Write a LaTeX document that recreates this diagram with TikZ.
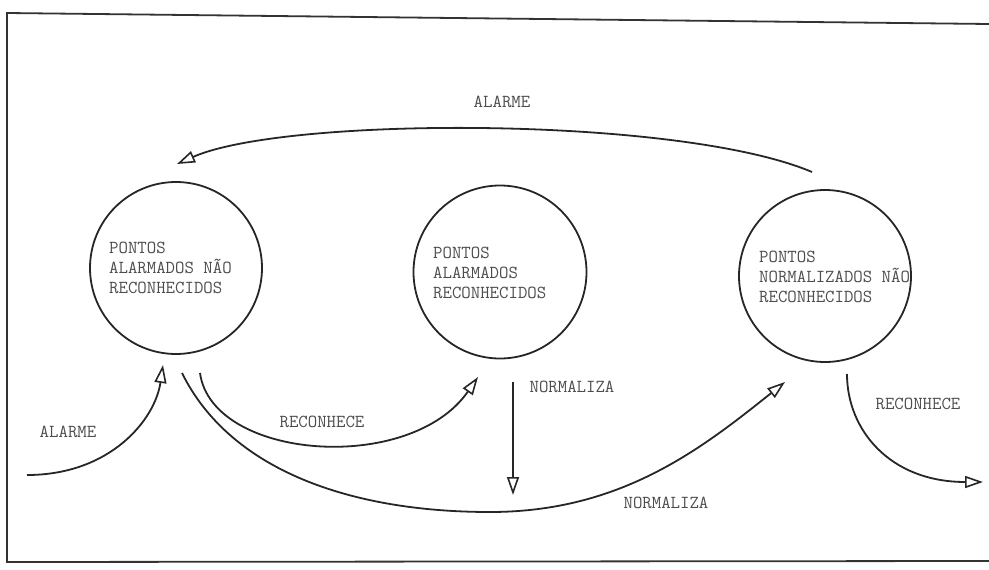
\documentclass[tikz,border=0pt]{standalone}
\usepackage{fontspec}
\usetikzlibrary{arrows.meta,calc}
\begin{document}
\begin{tikzpicture}[x=1pt,y=-1pt,
  every node/.style={font=\ttfamily\fontsize{18.3}{20}\selectfont, text=black!70},
  state/.style={draw=black!85, text=black, line width=1.8pt, circle, minimum size=172pt, inner sep=0pt},
  statetext/.style={align=left, anchor=west, inner sep=0pt},
  flow/.style={draw=black!85, line width=1.8pt,
    -{Triangle[open,length=18pt,width=12pt,line width=1.6pt]}},
  lbl/.style={inner sep=1pt}]
\useasboundingbox (0,0) rectangle (989,570);

% open frame
\draw[line width=1.8pt, black!80] (989,24) -- (7,13) -- (7,562) -- (989,561);

% states
\node[state] (c1) at (176,268) {};
\node[state, minimum size=173pt] (c2) at (500,272) {};
\node[state] (c3) at (825,276) {};

\node[statetext] (t1) at (109,268) {PONTOS\\ALARMADOS NÃO\\RECONHECIDOS};
\node[statetext] (t2) at (433,273) {PONTOS\\ALARMADOS\\RECONHECIDOS};
\node[statetext] (t3) at (759,277) {PONTOS\\NORMALIZADOS NÃO\\RECONHECIDOS};

% free ends
\coordinate (in1) at (27,475);
\coordinate (n1) at (513,495);
\coordinate (out1) at (983,482);

% transitions
\draw[flow] ($(c3.center)+(-13,-104)$) .. controls (680,116) and (286,116) .. ($(c1.center)+(1,-104)$);
\draw[flow] (in1) .. controls (110,475) and (155,420) .. ($(c1.center)+(-13,97)$);
\draw[flow] ($(c1.center)+(24,105)$) .. controls (212,460) and (410,475) .. ($(c2.center)+(-22,105)$);
\draw[flow] ($(c1.center)+(6,105)$) .. controls (230,470) and (350,512) .. (490,512)
   .. controls (620,512) and (700,450) .. ($(c3.center)+(-40,106)$);
\draw[flow] ($(c2.center)+(13,110)$) -- (n1);
\draw[flow] ($(c3.center)+(22,98)$) .. controls (847,430) and (890,482) .. (out1);

% labels
\node[lbl] (l1) at (502,102) {ALARME};
\node[lbl] (l2) at (68,432) {ALARME};
\node[lbl] (l3) at (322,422) {RECONHECE};
\node[lbl] (l4) at (572,387) {NORMALIZA};
\node[lbl] (l5) at (666,503) {NORMALIZA};
\node[lbl] (l6) at (918,404) {RECONHECE};
\end{tikzpicture}
\end{document}
